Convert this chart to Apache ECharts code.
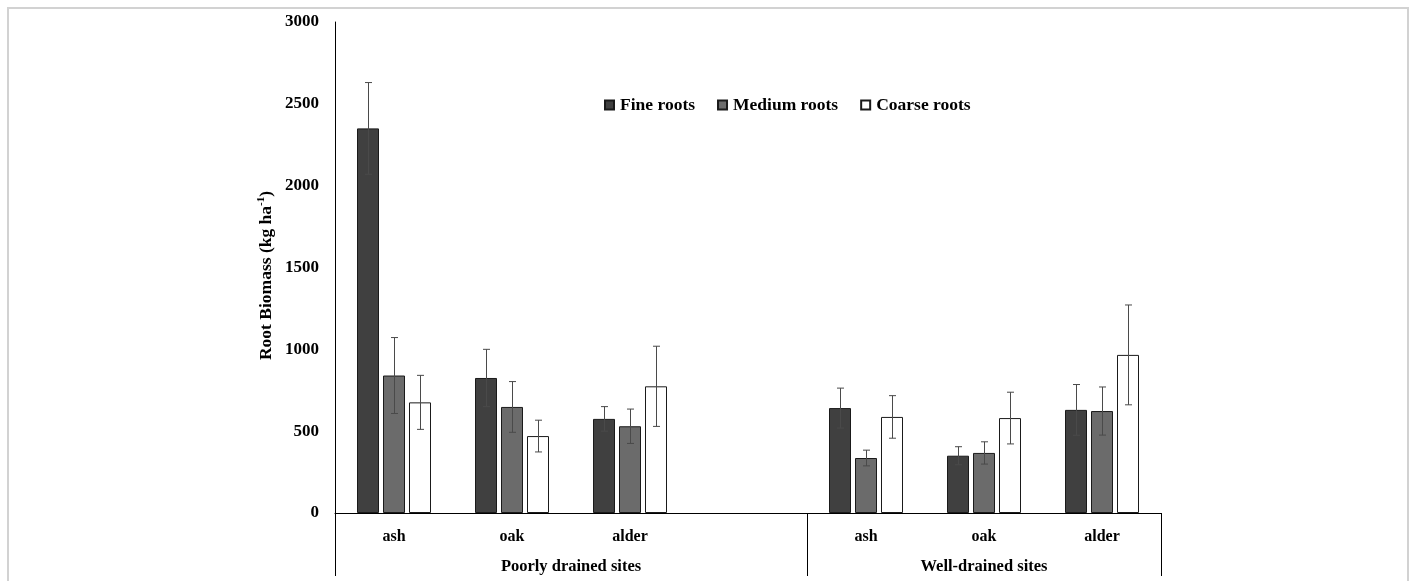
<!DOCTYPE html>
<html><head><meta charset="utf-8">
<script src="https://cdn.jsdelivr.net/npm/echarts@6/dist/echarts.min.js"></script>
<style>html,body{margin:0;padding:0;background:#fff}#c{width:1412px;height:581px}</style>
</head><body><div id="c"></div>
<script>
const categories = ['ash', 'oak', 'alder', '', 'ash', 'oak', 'alder'];
const seriesNames = ['Fine roots', 'Medium roots', 'Coarse roots'];
const fine = [2350, 825, 575, '-', 641, 350, 630];
const fineErr = [280, 175, 75, '-', 122, 55, 155];
const medium = [840, 648, 530, '-', 336, 367, 623];
const mediumErr = [232, 155, 105, '-', 48, 68, 147];
const coarse = [676, 470, 774, '-', 587, 580, 966];
const coarseErr = [165, 97, 245, '-', 130, 158, 305];
const groupNames = ['Poorly drained sites', 'Well-drained sites'];
const groupStart = [0, 4];
const groupEnd = [4, 7];
const yTicks = {min: 0, max: 3000, interval: 500};
const yTitle = '{n|Root Biomass (kg ha}{s|-1}{n|)}';

const FONT = '"Liberation Serif", "Times New Roman", serif';
const colors = ['#404040', '#6b6b6b', '#ffffff'];
const values = [fine, medium, coarse];
const errs = [fineErr, mediumErr, coarseErr];
const BAR_W = 22, GAP = 4;

const chart = echarts.init(document.getElementById('c'), null, {renderer: 'canvas'});

function errSeries(k) {
  const offset = (k - 1) * (BAR_W + GAP);
  return {
    type: 'custom', name: seriesNames[k] + ' err', z: 5, silent: true,
    data: values[k].map((v, i) => v === '-' ? ['-', '-', '-'] : [i, v, errs[k][i]]),
    renderItem: function (params, api) {
      const idx = api.value(0);
      const v = api.value(1), e = api.value(2);
      const top = api.coord([idx, v + e]);
      const bot = api.coord([idx, v - e]);
      const x = Math.round(top[0] + offset) + 0.5;
      const cap = 3.5;
      const st = {stroke: '#4a4a4a', lineWidth: 1};
      return {type: 'group', children: [
        {type: 'line', shape: {x1: x, y1: top[1], x2: x, y2: bot[1]}, style: st},
        {type: 'line', shape: {x1: x - cap, y1: top[1], x2: x + cap, y2: top[1]}, style: st},
        {type: 'line', shape: {x1: x - cap, y1: bot[1], x2: x + cap, y2: bot[1]}, style: st}
      ]};
    }
  };
}

const option = {
  animation: false,
  backgroundColor: '#fff',
  textStyle: {fontFamily: FONT},
  grid: {left: 335, right: 251, top: 22, bottom: 68, containLabel: false},
  legend: {
    data: seriesNames, left: 599, top: 91, itemWidth: 9, itemHeight: 9, itemGap: 22,
    icon: 'rect',
    textStyle: {fontFamily: FONT, fontWeight: 'bold', fontSize: 17.5, color: '#000', padding: [0, 0, 0, 1]}
  },
  xAxis: {
    type: 'category', data: categories,
    axisLine: {lineStyle: {color: '#000', width: 1}},
    axisTick: {show: false},
    axisLabel: {interval: 0, margin: 16, fontFamily: FONT, fontWeight: 'bold', fontSize: 16, color: '#000'}
  },
  yAxis: {
    type: 'value', min: yTicks.min, max: yTicks.max, interval: yTicks.interval,
    axisLine: {show: true, lineStyle: {color: '#000', width: 1}},
    axisTick: {show: false},
    splitLine: {show: false},
    axisLabel: {margin: 16, fontFamily: FONT, fontWeight: 'bold', fontSize: 17, color: '#000',
      formatter: v => String(v)}
  },
  series: [0, 1, 2].map(k => ({
    type: 'bar', name: seriesNames[k], data: values[k],
    barWidth: BAR_W, barGap: (GAP / BAR_W * 100) + '%',
    itemStyle: {color: colors[k], borderColor: '#1a1a1a', borderWidth: 1}
  })).concat([0, 1, 2].map(errSeries))
};
chart.setOption(option);

// group labels, title and separators through the axis scale
const y0 = chart.convertToPixel({yAxisIndex: 0}, 0);
const yMid = chart.convertToPixel({yAxisIndex: 0}, (yTicks.min + yTicks.max) / 2);
const half = (chart.convertToPixel({xAxisIndex: 0}, 1) - chart.convertToPixel({xAxisIndex: 0}, 0)) / 2;
const boundary = i => chart.convertToPixel({xAxisIndex: 0}, i) - half;
const graphics = [
  {type: 'rect', shape: {x: 8, y: 8, width: 1400, height: 600}, style: {fill: 'none', stroke: '#d2d2d2', lineWidth: 2}, z: 0},
  {type: 'text', x: 266, y: yMid + 8, rotation: Math.PI / 2,
    style: {text: yTitle, align: 'center', verticalAlign: 'middle',
      rich: {
        n: {fontFamily: FONT, fontWeight: 'bold', fontSize: 17.5, fill: '#000'},
        s: {fontFamily: FONT, fontWeight: 'bold', fontSize: 11, fill: '#000', verticalAlign: 'top', padding: [0, 0, 9, 0]}
      }}}
];
const bounds = new Set();
groupStart.forEach(s => bounds.add(s));
groupEnd.forEach(e => bounds.add(e));
bounds.forEach(b => {
  const x = Math.round(boundary(b)) + 0.5;
  graphics.push({type: 'line', shape: {x1: x, y1: y0, x2: x, y2: y0 + 63}, style: {stroke: '#000', lineWidth: 1}});
});
groupNames.forEach((g, i) => {
  const cx = (boundary(groupStart[i]) + boundary(groupEnd[i])) / 2;
  graphics.push({type: 'text', x: cx, y: y0 + 54, style: {text: g, fontFamily: FONT, fontWeight: 'bold', fontSize: 16.5, fill: '#000', align: 'center', verticalAlign: 'middle'}});
});
chart.setOption({graphic: graphics});
</script></body></html>
